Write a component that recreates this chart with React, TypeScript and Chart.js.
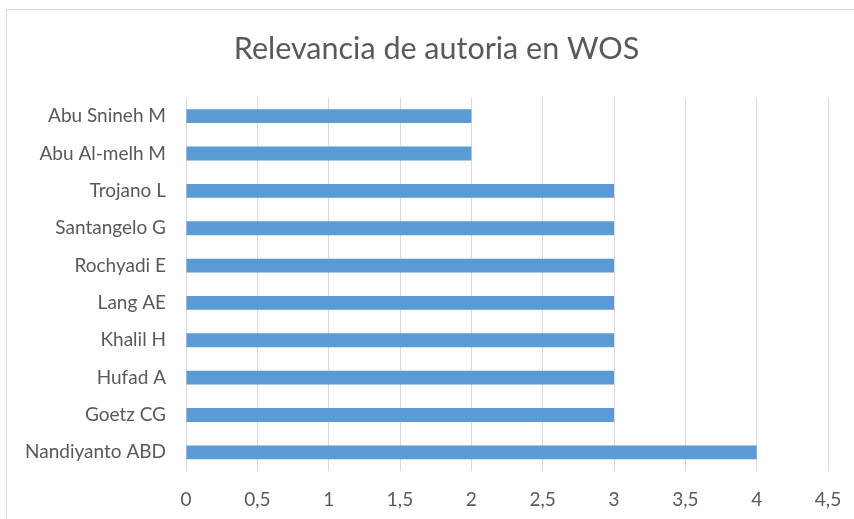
import React, { useEffect, useRef } from "react";
import { Chart, registerables } from "chart.js";

Chart.register(...registerables);

const categories = [
  "Abu Snineh M",
  "Abu Al-melh M",
  "Trojano L",
  "Santangelo G",
  "Rochyadi E",
  "Lang AE",
  "Khalil H",
  "Hufad A",
  "Goetz CG",
  "Nandiyanto ABD",
];
const values = [2, 2, 3, 3, 3, 3, 3, 3, 3, 4];
const titleText = "Relevancia de autoria en WOS";
const xMin = 0;
const xMax = 4.5;
const xStep = 0.5;

const FONT = "Lato, 'Open Sans', sans-serif";
const TEXT = "#595959";

const titlePlugin = {
  id: "centeredTitle",
  afterDraw(chart: any) {
    const ctx = chart.ctx;
    ctx.save();
    ctx.fillStyle = TEXT;
    ctx.font = `normal 30.5px ${FONT}`;
    ctx.textAlign = "center";
    ctx.textBaseline = "middle";
    ctx.fillText(titleText, 436.5, 49);
    ctx.restore();
  },
};

export default function App() {
  const ref = useRef<HTMLCanvasElement | null>(null);
  useEffect(() => {
    if (!ref.current) return;
    const chart = new Chart(ref.current, {
      type: "bar",
      data: {
        labels: categories,
        datasets: [
          {
            data: values,
            backgroundColor: "#5B9BD5",
            borderWidth: 0,
            categoryPercentage: 1,
            barPercentage: 0.37,
          },
        ],
      },
      options: {
        indexAxis: "y",
        animation: false,
        responsive: false,
        maintainAspectRatio: false,
        layout: { padding: { left: 0, right: 26, top: 97.5, bottom: 0 } },
        plugins: {
          legend: { display: false },
          tooltip: { enabled: false },
          title: { display: false },
        },
        scales: {
          x: {
            min: xMin,
            max: xMax,
            ticks: {
              stepSize: xStep,
              color: TEXT,
              font: { family: FONT, size: 19 },
              padding: 17,
              callback: (v: any) => String(v).replace(".", ","),
            },
            grid: { color: "#d9d9d9", lineWidth: 1, drawTicks: false },
            border: { display: false },
            afterFit: (s: any) => {
              s.height = 48;
              s.paddingRight = 0;
              s.paddingLeft = 0;
            },
          },
          y: {
            ticks: {
              color: TEXT,
              font: { family: FONT, size: 19 },
              padding: 20,
              autoSkip: false,
            },
            grid: { display: false, drawTicks: false },
            border: { display: false },
            afterFit: (s: any) => {
              s.width = 186;
              s.paddingTop = 0;
              s.paddingBottom = 0;
            },
          },
        },
      },
      plugins: [titlePlugin],
    });
    return () => chart.destroy();
  }, []);
  return (
    <div
      style={{
        position: "fixed",
        left: 0,
        top: 0,
        width: 854,
        height: 519,
        overflow: "hidden",
        background: "#fff",
      }}
    >
      <div
        style={{
          position: "absolute",
          left: 6,
          top: 9,
          width: 900,
          height: 600,
          border: "1px solid #d9d9d9",
          boxSizing: "border-box",
        }}
      />
      <canvas
        ref={ref}
        width={854}
        height={519}
        style={{ position: "absolute", left: 0, top: 0, width: 854, height: 519 }}
      />
    </div>
  );
}
